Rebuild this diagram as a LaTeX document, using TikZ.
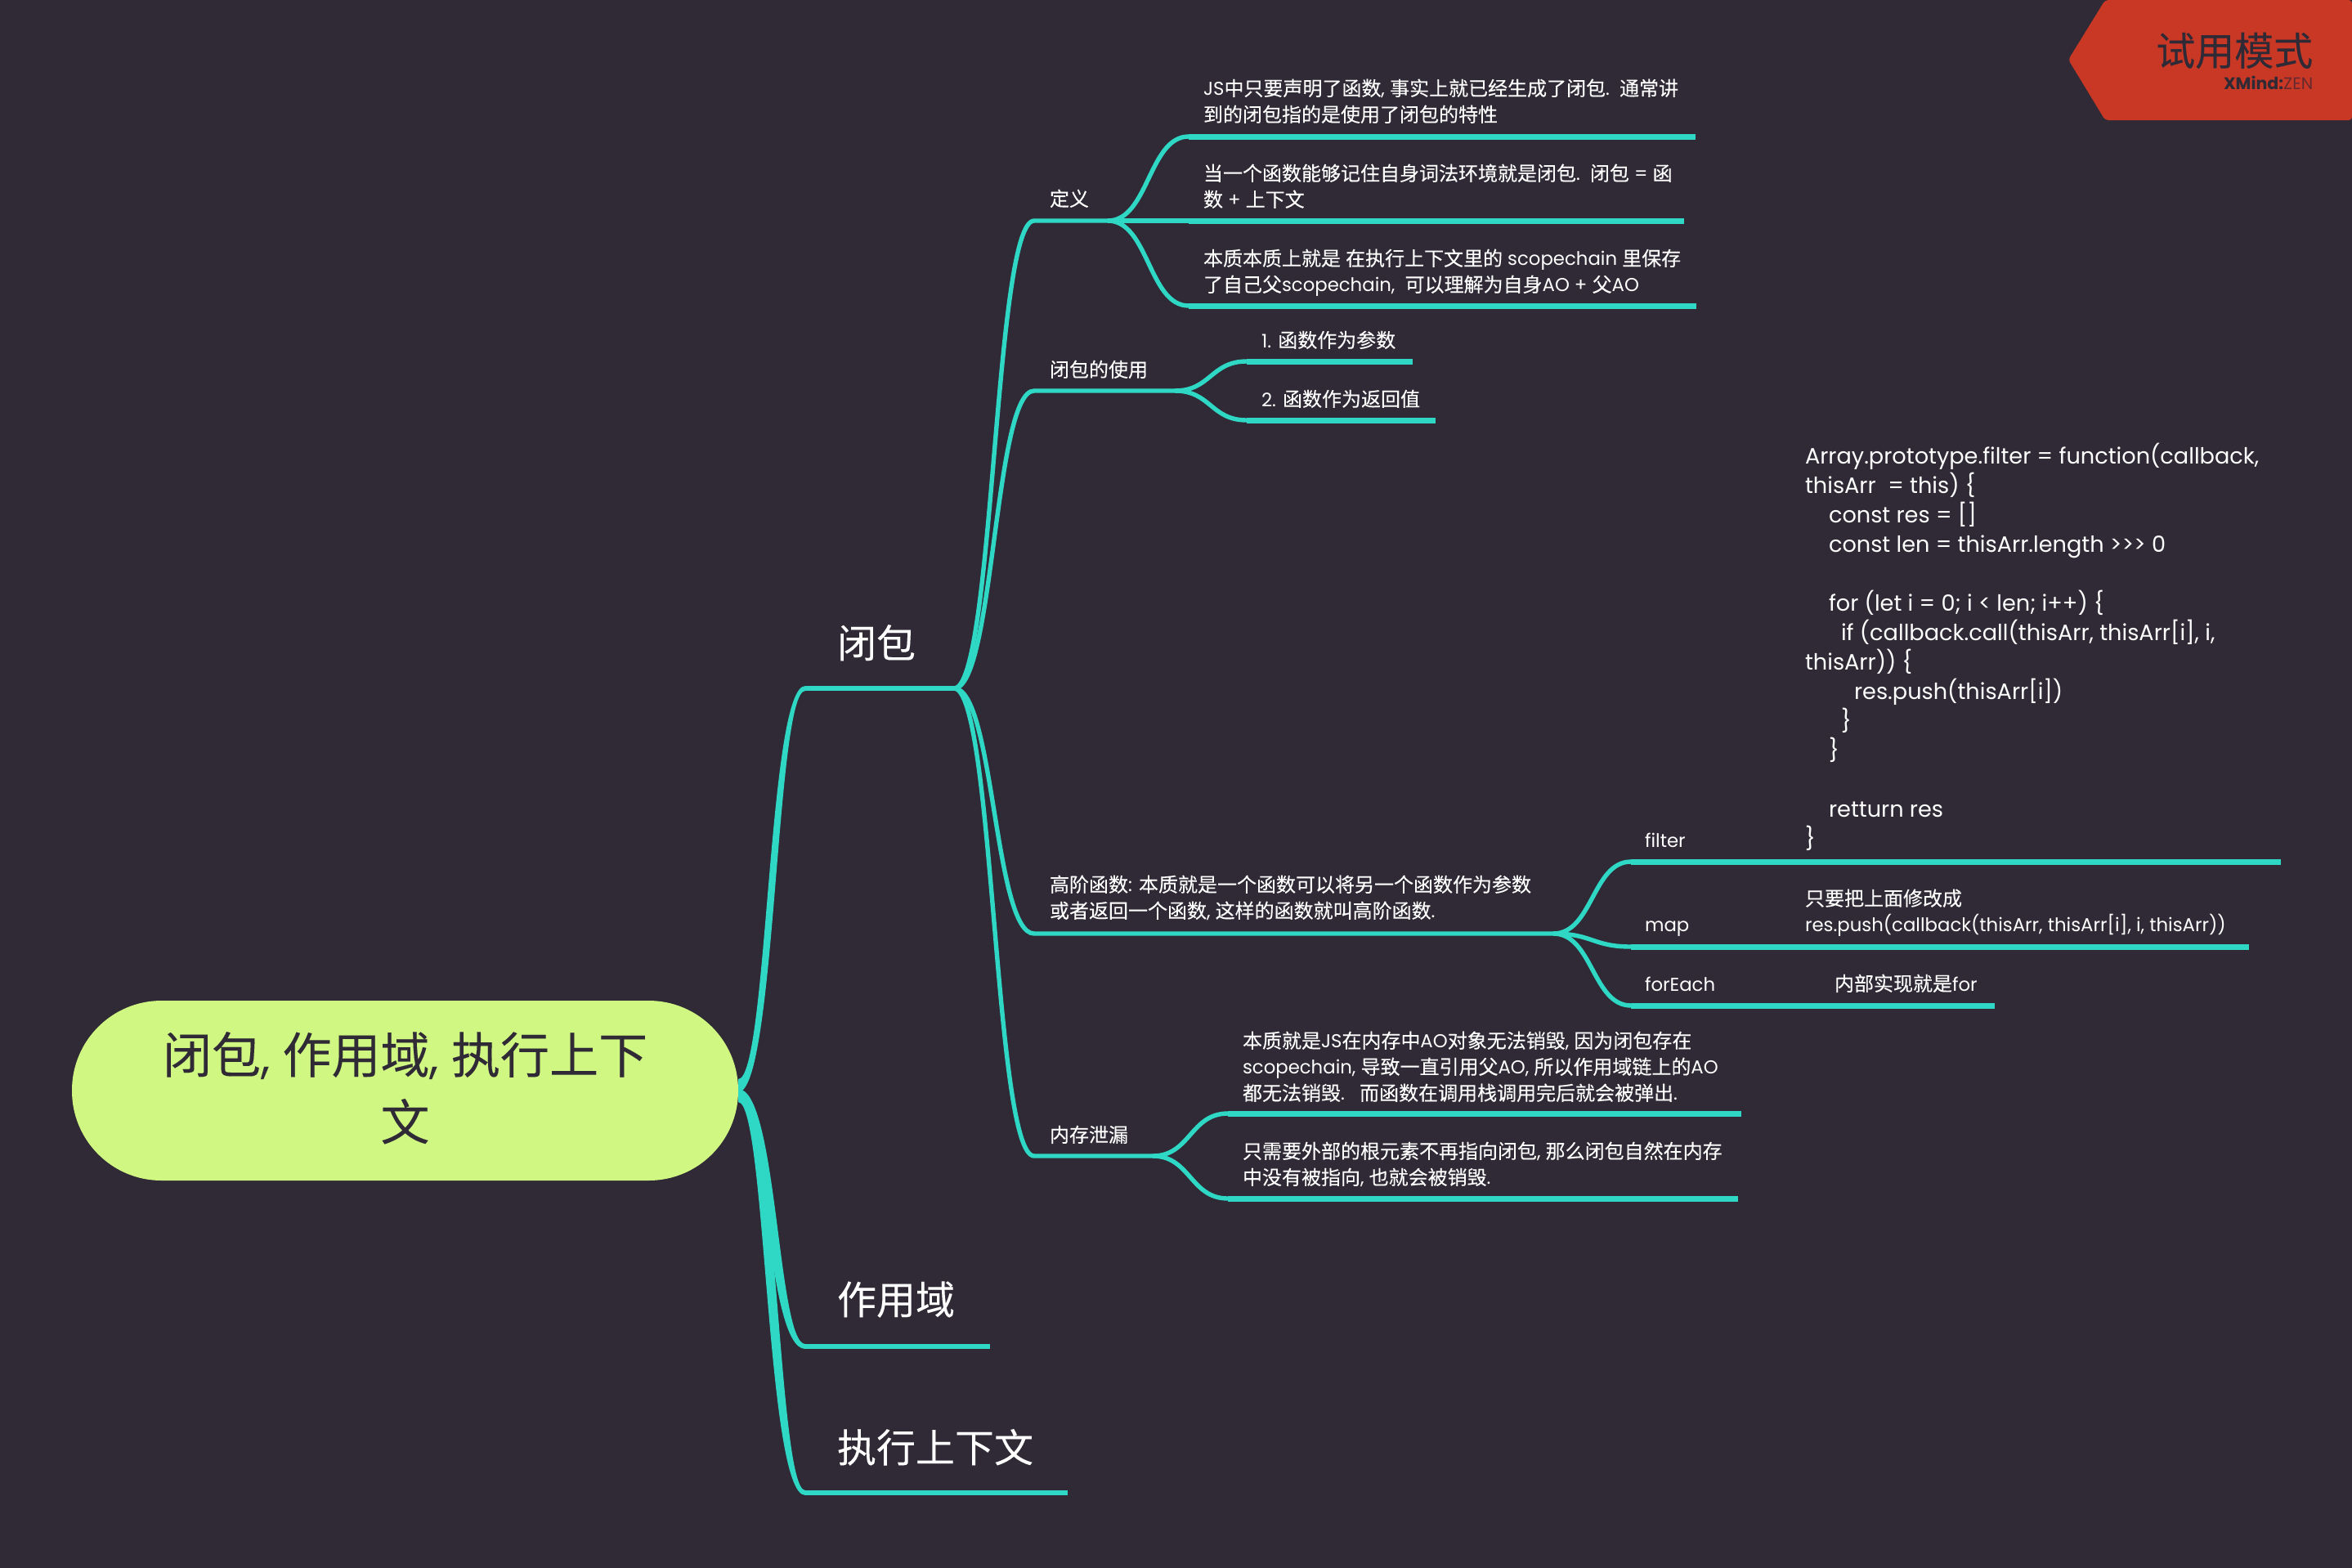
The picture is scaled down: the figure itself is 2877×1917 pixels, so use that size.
\documentclass[tikz,border=0pt]{standalone}
\usepackage{fontspec}
\setmainfont[Scale=0.95]{Poppins}
\newfontfamily\cjkf[FakeBold=0.12]{Noto Sans CJK SC}
\usetikzlibrary{calc}
\newcommand\zh[1]{{\cjkf #1}}
\definecolor{bgc}{HTML}{2F2A35}
\definecolor{teal}{HTML}{2ED8C4}
\definecolor{lime}{HTML}{CFF781}
\definecolor{redc}{HTML}{C93825}
\definecolor{zenc}{HTML}{66292F}
\newcommand\taper[6]{% from, to, ctrl x offset, start half-width, stretch, end half-width
  \fill[teal] ($(#1)+(0,#4)$) .. controls ($(#1)+(#3-#5,#4)$) and ($(#2)+(-#3-#5,#6)$) .. ($(#2)+(0,#6)$)
    -- ($(#2)+(0,0-#6)$) .. controls ($(#2)+(-#3+#5,0-#6)$) and ($(#1)+(#3+#5,0-#4)$) .. ($(#1)+(0,0-#4)$) -- cycle;}
\tikzset{
  link1/.style={draw=teal,line width=1.5pt},
  link2/.style={draw=teal,line width=1.35pt},
  link3/.style={draw=teal,line width=1.75pt},
  curve3/.style={draw=teal,line width=1.35pt},
  txt/.style={anchor=north west,inner sep=0pt,outer sep=0pt,text=white,align=left,execute at begin node=\strut},
  big/.style={txt,font=\fontsize{12}{16}\selectfont,yshift=11.3pt},
  small/.style={txt,font=\fontsize{6}{8}\selectfont,yshift=5.1pt},
  code/.style={txt,font=\fontsize{7.15}{9}\selectfont,yshift=6.3pt},
  rootbox/.style={fill=lime,rounded corners=27.4pt,minimum width=203.75pt,minimum height=55pt,inner sep=0pt,
    text=bgc,align=center,font=\fontsize{15}{20.5}\selectfont},
}
\begin{document}
\begin{tikzpicture}[x=.25pt,y=-.25pt]
\useasboundingbox (0,0) rectangle (2877,1917);
\fill[bgc] (-5,-5) rectangle (2882,1922);

% coordinates
\coordinate (rs) at (903,1332);
\coordinate (a) at (985,842);   \coordinate (ae) at (1167,842);
\coordinate (b) at (985,1647);  \coordinate (be) at (1211,1647);
\coordinate (c) at (985,1826);  \coordinate (ce) at (1306,1826);
\coordinate (d1) at (1265,270); \coordinate (d1h) at (1355,270);
\coordinate (d2) at (1265,478); \coordinate (d2h) at (1437,478);
\coordinate (d3) at (1265,1142);\coordinate (d3h) at (1900,1142);
\coordinate (d4) at (1265,1414);\coordinate (d4h) at (1410,1414);
\coordinate (e1) at (1454,167); \coordinate (e1e) at (2074,167);
\coordinate (e2) at (1454,270); \coordinate (e2e) at (2060,270);
\coordinate (e3) at (1454,374); \coordinate (e3e) at (2075,374);
\coordinate (f1) at (1525,442); \coordinate (f1e) at (1728,442);
\coordinate (f2) at (1525,514); \coordinate (f2e) at (1756,514);
\coordinate (g1) at (1995,1054);\coordinate (g1e) at (2790,1054);
\coordinate (g2) at (1995,1158);\coordinate (g2e) at (2751,1158);
\coordinate (g3) at (1995,1230);\coordinate (g3e) at (2440,1230);
\coordinate (h1) at (1502,1362);\coordinate (h1e) at (2130,1362);
\coordinate (h2) at (1502,1466);\coordinate (h2e) at (2126,1466);

% root branches
\coordinate (rsu) at (903,1328);
\coordinate (rsd) at (903,1340);
\taper{rsu}{a}{41}{-8}{5}{-3}
\taper{rsd}{b}{41}{8}{7}{3}
\taper{rsd}{c}{41}{8}{7}{3}
\draw[link1] (a) -- (ae);
\draw[link1] (b) -- (be);
\draw[link1] (c) -- (ce);

% level 2
\draw[link2] (ae) .. controls (1216,842) and (1216,270) .. (d1) -- (d1h);
\draw[link2] (ae) .. controls (1216,842) and (1216,478) .. (d2) -- (d2h);
\draw[link2] (ae) .. controls (1216,842) and (1216,1142) .. (d3) -- (d3h);
\draw[link2] (ae) .. controls (1216,842) and (1216,1414) .. (d4) -- (d4h);

% level 3
\draw[curve3] (d1h) .. controls (1405,270) and (1405,167) .. (e1);
\draw[curve3] (d1h) -- (e2);
\draw[curve3] (d1h) .. controls (1405,270) and (1405,374) .. (e3);
\draw[curve3] (d2h) .. controls (1481,478) and (1481,442) .. (f1);
\draw[curve3] (d2h) .. controls (1481,478) and (1481,514) .. (f2);
\draw[curve3] (d3h) .. controls (1948,1142) and (1948,1054) .. (g1);
\draw[curve3] (d3h) .. controls (1948,1142) and (1948,1158) .. (g2);
\draw[curve3] (d3h) .. controls (1948,1142) and (1948,1230) .. (g3);
\draw[curve3] (d4h) .. controls (1456,1414) and (1456,1362) .. (h1);
\draw[curve3] (d4h) .. controls (1456,1414) and (1456,1466) .. (h2);
\draw[link3] (e1) -- (e1e);
\draw[link3] (e2) -- (e2e);
\draw[link3] (e3) -- (e3e);
\draw[link3] (f1) -- (f1e);
\draw[link3] (f2) -- (f2e);
\draw[link3] (g1) -- (g1e);
\draw[link3] (g2) -- (g2e);
\draw[link3] (g3) -- (g3e);
\draw[link3] (h1) -- (h1e);
\draw[link3] (h2) -- (h2e);

% root
\node[rootbox] (root) at (495.5,1334) {\zh{闭包}, \zh{作用域}, \zh{执行上下}\\\zh{文}\rule[-2.8pt]{0pt}{0pt}};

% level 1 text
\node[big] (t1) at (1024,805) {\zh{闭包}};
\node[big] (t2) at (1024,1608) {\zh{作用域}};
\node[big] (t3) at (1024,1789) {\zh{执行上下文}};

% level 2 text
\node[small] (n1) at (1284,250) {\zh{定义}};
\node[small] (n2) at (1284,459) {\zh{闭包的使用}};
\node[small] (n3) at (1284,1091) {\zh{高阶函数}: \zh{本质就是一个函数可以将另一个函数作为参数}\\\zh{或者返回一个函数}, \zh{这样的函数就叫高阶函数}.};
\node[small] (n4) at (1284,1395) {\zh{内存泄漏}};

% level 3 text
\node[small] (m1) at (1472,117) {JS\zh{中只要声明了函数}, \zh{事实上就已经生成了闭包}.\ \ \zh{通常讲}\\\zh{到的闭包指的是使用了闭包的特性}};
\node[small] (m2) at (1472,221) {\zh{当一个函数能够记住自身词法环境就是闭包}.\ \ \zh{闭包} = \zh{函}\\\zh{数} + \zh{上下文}};
\node[small] (m3) at (1472,325) {\zh{本质本质上就是} \zh{在执行上下文里的} scopechain \zh{里保存}\\\zh{了自己父}scopechain,\ \ \zh{可以理解为自身}AO + \zh{父}AO};
\node[small] (m4) at (1543,423) {1. \zh{函数作为参数}};
\node[small] (m5) at (1543,495) {2. \zh{函数作为返回值}};
\node[small] (m6) at (2012,1034) {filter};
\node[small] (m7) at (2012,1137) {map};
\node[small] (m8) at (2012,1210) {forEach};
\node[small] (m9) at (1520,1282) {\zh{本质就是}JS\zh{在内存中}AO\zh{对象无法销毁}, \zh{因为闭包存在}\\scopechain, \zh{导致一直引用父}AO, \zh{所以作用域链上的}AO\\\zh{都无法销毁}.\ \ \ \zh{而函数在调用栈调用完后就会被弹出}.};
\node[small] (m10) at (1520,1417) {\zh{只需要外部的根元素不再指向闭包}, \zh{那么闭包自然在内存}\\\zh{中没有被指向}, \zh{也就会被销毁}.};

% level 4 text
\node[code] (k1) at (2208,567) {Array.prototype.filter = function(callback,\\
thisArr\ \ = this) \{\\
\hspace*{7.25pt}const res = []\\
\hspace*{7.25pt}const len = thisArr.length >{}>{}> 0\\
\mbox{}\\
\hspace*{7.25pt}for (let i = 0; i < len; i++) \{\\
\hspace*{11pt}if (callback.call(thisArr, thisArr[i], i,\\
thisArr)) \{\\
\hspace*{15pt}res.push(thisArr[i])\\
\hspace*{11pt}\}\\
\hspace*{7.25pt}\}\\
\mbox{}\\
\hspace*{7.25pt}retturn res\\
\}};
\node[small] (k2) at (2208,1108) {\zh{只要把上面修改成}\\res.push(callback(thisArr, thisArr[i], i, thisArr))};
\node[small] (k3) at (2244,1210) {\zh{内部实现就是}for};

% trial badge
\fill[redc,rounded corners=1pt] (2530,73) -- (2575,0) -- (2877,0) -- (2877,147) -- (2575,147) -- cycle;
\node[anchor=base east,inner sep=0pt,text=bgc,font=\fontsize{12}{14}\selectfont] (w1) at (2830,80) {\zh{试用模式}};
\node[anchor=base east,inner sep=0pt,text=bgc,font=\fontsize{5.4}{6}\selectfont] (w2) at (2830,109) {\textbf{XMind:}\textcolor{zenc}{ZEN}};
\end{tikzpicture}
\end{document}
